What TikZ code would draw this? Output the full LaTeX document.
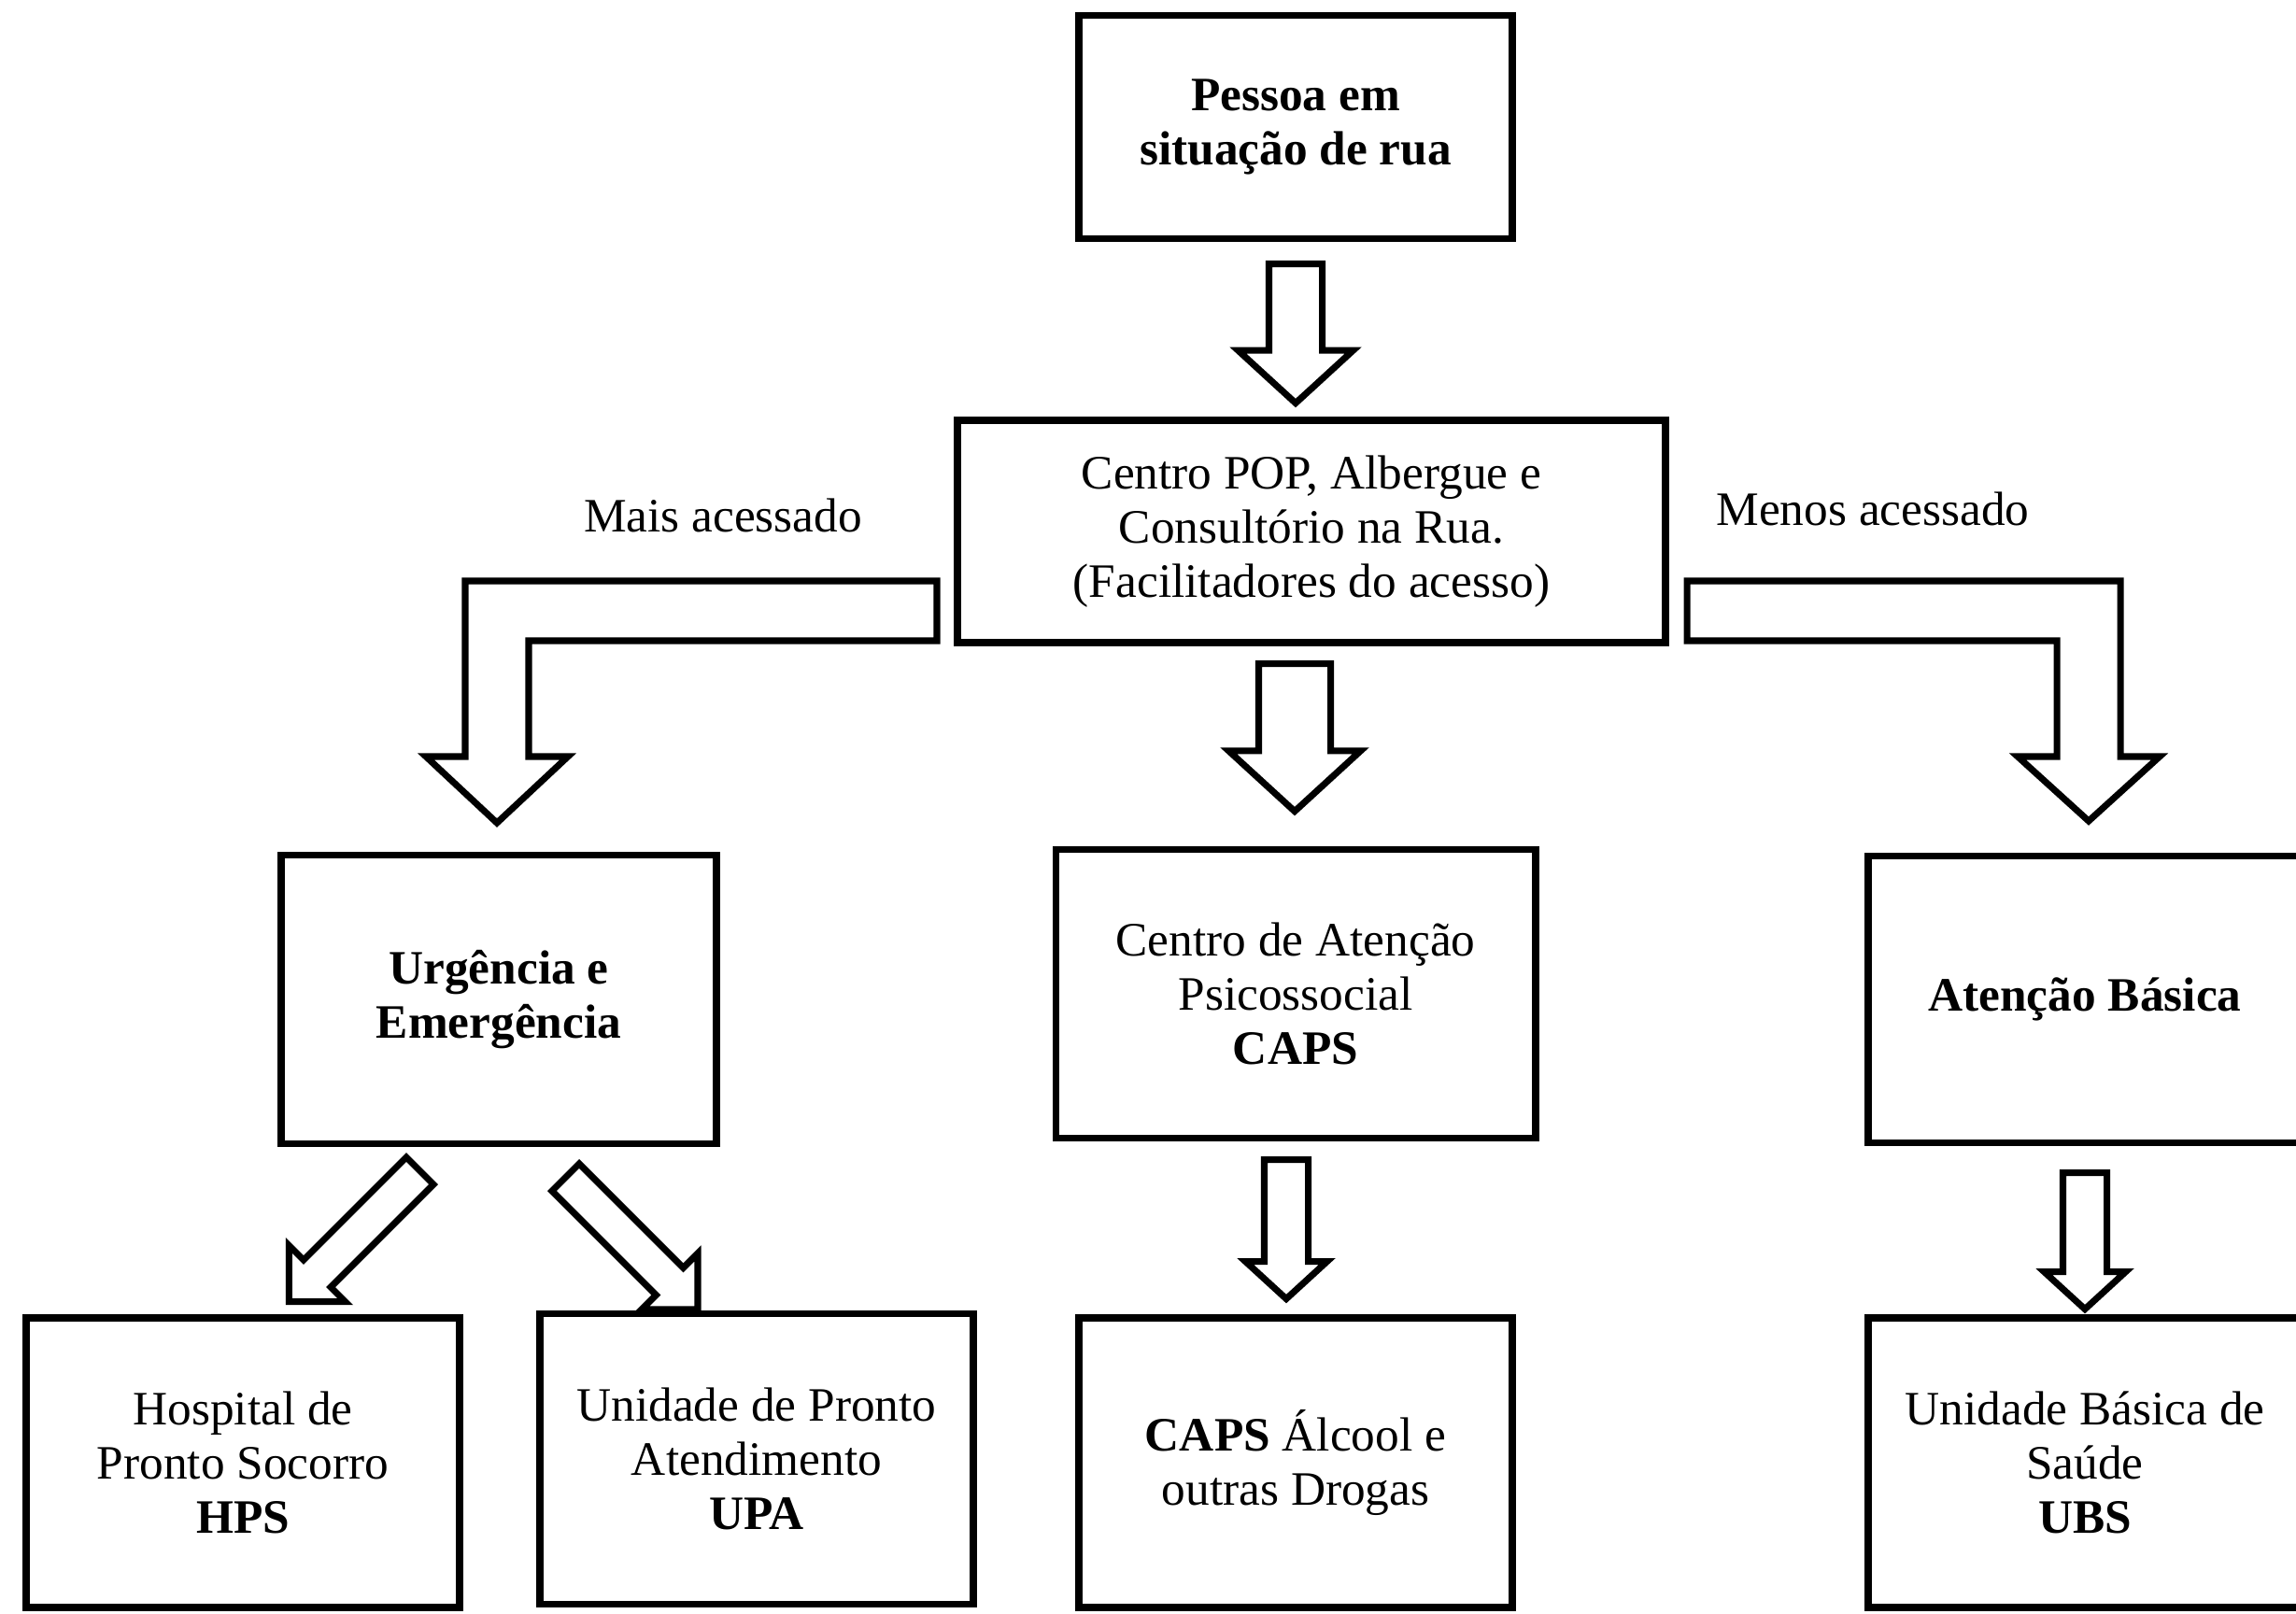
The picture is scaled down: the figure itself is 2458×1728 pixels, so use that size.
\documentclass[tikz,border=0pt]{standalone}
\usepackage{fontspec}
\setmainfont{Liberation Serif}
\usetikzlibrary{shapes.arrows}

\tikzset{
  caixa/.style={draw, line width=2.2pt, align=center, inner sep=0pt, fill=white,
    font=\fontsize{14.6}{16.5}\selectfont},
  rotulo/.style={inner sep=0pt, font=\fontsize{14.6}{16.5}\selectfont},
  seta/.style={draw, line width=2pt, single arrow, single arrow tip angle=95,
    inner xsep=0pt, fill=white, anchor=tail},
  bloco/.style={draw, line width=2pt, fill=white, line join=miter}
}

\begin{document}
\begin{tikzpicture}[x=0.01cm, y=0.01cm]
  \fill[white] (0,0) rectangle (2458,-1728);
  \useasboundingbox (0,0) rectangle (2458,-1728);

  % caixas
  \node[caixa, minimum width=4.64cm, minimum height=2.39cm, font=\fontsize{14.6}{16.5}\selectfont\bfseries]
    (pessoa) at (1387,-136) {Pessoa em\\situação de rua};
  \node[caixa, minimum width=7.57cm, minimum height=2.38cm]
    (centro) at (1404,-569) {Centro POP, Albergue e\\Consultório na Rua.\\(Facilitadores do acesso)};
  \node[caixa, minimum width=4.66cm, minimum height=3.09cm, font=\fontsize{14.6}{16.5}\selectfont\bfseries]
    (urgencia) at (534,-1070) {Urgência e\\Emergência};
  \node[caixa, minimum width=5.13cm, minimum height=3.09cm]
    (caps) at (1387,-1064) {Centro de Atenção\\Psicossocial\\\textbf{CAPS}};
  \node[caixa, minimum width=4.64cm, minimum height=3.07cm, font=\fontsize{14.6}{16.5}\selectfont\bfseries]
    (basica) at (2232,-1070) {Atenção Básica};
  \node[caixa, minimum width=4.64cm, minimum height=3.10cm]
    (hps) at (260,-1566) {Hospital de\\Pronto Socorro\\\textbf{HPS}};
  \node[caixa, minimum width=4.64cm, minimum height=3.11cm]
    (upa) at (810,-1562) {Unidade de Pronto\\Atendimento\\\textbf{UPA}};
  \node[caixa, minimum width=4.64cm, minimum height=3.10cm]
    (capsad) at (1387,-1566) {\textbf{CAPS} Álcool e\\outras Drogas};
  \node[caixa, minimum width=4.64cm, minimum height=3.10cm]
    (ubs) at (2232,-1566) {Unidade Básica de\\Saúde\\\textbf{UBS}};

  % rotulos
  \node[rotulo] (mais) at (774,-552) {Mais acessado};
  \node[rotulo] (menos) at (2005,-545) {Menos acessado};

  % setas retas
  \node[seta, rotate=-90, minimum height=1.49cm, inner ysep=0.25cm, single arrow head extend=0.33cm]
    (s1) at (1387,-279) {};
  \node[seta, rotate=-90, minimum height=1.58cm, inner ysep=0.35cm, single arrow head extend=0.32cm]
    (s2) at (1386,-707) {};
  \node[seta, rotate=-90, minimum height=1.49cm, inner ysep=0.20cm, single arrow head extend=0.20cm]
    (s3) at (1377,-1238) {};
  \node[seta, rotate=-90, minimum height=1.46cm, inner ysep=0.20cm, single arrow head extend=0.20cm]
    (s4) at (2232,-1252) {};
  \node[seta, rotate=225, single arrow tip angle=90, minimum height=1.98cm, inner ysep=0.17cm, single arrow head extend=0.22cm]
    (s5) at (452,-1251) {};
  \node[seta, rotate=-45, single arrow tip angle=90, minimum height=2.00cm, inner ysep=0.17cm, single arrow head extend=0.22cm]
    (s6) at (603,-1258) {};

  % setas em L
  \draw[bloco] (1003,-622) -- (498,-622) -- (498,-810) -- (456,-810) -- (532,-881)
    -- (608,-810) -- (566,-810) -- (566,-686) -- (1003,-686) -- cycle;
  \draw[bloco] (1806,-622) -- (2270,-622) -- (2270,-810) -- (2312,-810) -- (2236,-879)
    -- (2160,-810) -- (2202,-810) -- (2202,-686) -- (1806,-686) -- cycle;
\end{tikzpicture}
\end{document}
